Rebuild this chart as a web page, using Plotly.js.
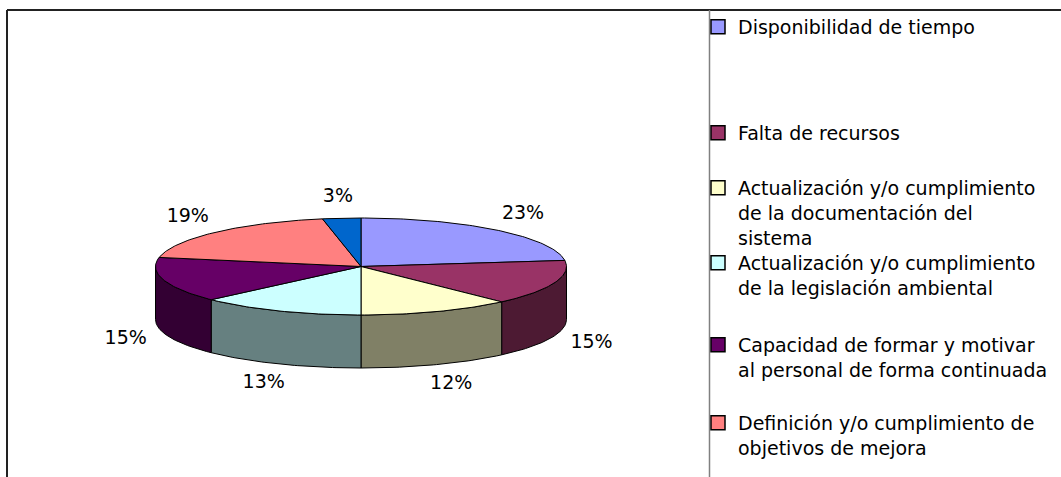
<!DOCTYPE html>
<html>
<head>
<meta charset="utf-8">
<script src="https://cdn.plot.ly/plotly-3.0.1.min.js"></script>
<style>html,body{margin:0;padding:0;background:#fff;}#chart{width:1061px;height:477px;}</style>
</head>
<body>
<div id="chart"></div>
<script>
// ---- data ----
const categories = [
  "Disponibilidad de tiempo",
  "Falta de recursos",
  "Actualización y/o cumplimiento de la documentación del sistema",
  "Actualización y/o cumplimiento de la legislación ambiental",
  "Capacidad de formar y motivar al personal de forma continuada",
  "Definición y/o cumplimiento de objetivos de mejora",
  "Otros"
];
const legendLabels = [
  "Disponibilidad de tiempo",
  "Falta de recursos",
  "Actualización y/o cumplimiento<br>de la documentación del<br>sistema",
  "Actualización y/o cumplimiento<br>de la legislación ambiental",
  "Capacidad de formar y motivar<br>al personal de forma continuada",
  "Definición y/o cumplimiento de<br>objetivos de mejora",
  "Otros"
];
const values = [23, 15, 12, 13, 15, 19, 3];
const colors = ["#9999FF", "#993366", "#FFFFCC", "#CCFFFF", "#660066", "#FF8080", "#0066CC"];

// ---- geometry (style / layout) ----
const W = 1061, H = 477;
const cx = 361, cy = 266.5, rx = 205.5, ry = 48.5, depth = 53;
const lrx = 245, lry = 70;
const FONT = "DejaVu Sans, Verdana, sans-serif";

function shade(hex, f) {
  const n = parseInt(hex.slice(1), 16);
  const r = Math.round(((n >> 16) & 255) * f), g = Math.round(((n >> 8) & 255) * f), b = Math.round((n & 255) * f);
  return "rgb(" + r + "," + g + "," + b + ")";
}
function px(a) { return cx + rx * Math.sin(a * Math.PI / 180); }
function py(a) { return cy - ry * Math.cos(a * Math.PI / 180); }
function arc(a1, a2, dy) {
  const xs = [], ys = [];
  const n = Math.max(2, Math.ceil(Math.abs(a2 - a1)));
  for (let k = 0; k <= n; k++) {
    const a = a1 + (a2 - a1) * k / n;
    xs.push(px(a)); ys.push(py(a) + dy);
  }
  return [xs, ys];
}

const total = values.reduce((s, v) => s + v, 0);
const starts = [], ends = [];
let acc = 0;
values.forEach(v => { starts.push(acc / total * 360); acc += v; ends.push(acc / total * 360); });

const traces = [];
// side walls (front half only)
values.forEach((v, i) => {
  const s = Math.max(starts[i], 90), e = Math.min(ends[i], 270);
  if (e <= s) return;
  const [tx, ty] = arc(s, e, 0);
  const [bx, by] = arc(e, s, depth);
  traces.push({
    type: "scatter", mode: "lines", fill: "toself",
    x: tx.concat(bx, [tx[0]]), y: ty.concat(by, [ty[0]]),
    fillcolor: shade(colors[i], 0.5), line: {color: "#000", width: 1},
    showlegend: false, hoverinfo: "skip"
  });
});
// top faces
values.forEach((v, i) => {
  const [ax, ay] = arc(starts[i], ends[i], 0);
  traces.push({
    type: "scatter", mode: "lines", fill: "toself",
    x: [cx].concat(ax, [cx]), y: [cy].concat(ay, [cy]),
    fillcolor: colors[i], line: {color: "#000", width: 1},
    name: categories[i], showlegend: false, hoverinfo: "skip"
  });
});
// percentage labels
const lx = [], ly = [], lt = [];
values.forEach((v, i) => {
  const m = (starts[i] + ends[i]) / 2 * Math.PI / 180;
  const c = Math.cos(m);
  lx.push(cx + lrx * Math.sin(m));
  ly.push(cy - lry * c + (c < 0 ? depth : 0));
  lt.push(Math.round(v / total * 100) + "%");
});
traces.push({
  type: "scatter", mode: "text", x: lx, y: ly, text: lt,
  textposition: "middle center", textfont: {family: FONT, size: 19, color: "#000"},
  showlegend: false, hoverinfo: "skip"
});
// legend entries
const legendTops = [27, 133, 188, 263, 345, 423];
const layoutLegends = {};
legendLabels.forEach((lab, i) => {
  const key = i === 0 ? "legend" : "legend" + (i + 1);
  const show = i < legendTops.length;
  traces.push({
    type: "scatter", mode: "markers", x: [null], y: [null],
    name: lab, legend: key, showlegend: show,
    marker: {symbol: "square", size: 14, color: colors[i], line: {color: "#000", width: 1.5}},
    hoverinfo: "skip"
  });
  if (show) {
    layoutLegends[key] = {
      x: 698 / W, xanchor: "left",
      y: 1 - (legendTops[i] - 19) / H, yanchor: "top",
      bgcolor: "rgba(0,0,0,0)", borderwidth: 0,
      font: {family: FONT, size: 19, color: "#000"},
      valign: "top", itemwidth: 30, itemclick: false, itemdoubleclick: false
    };
  }
});

const layout = Object.assign({
  width: W, height: H,
  margin: {l: 0, r: 0, t: 0, b: 0, autoexpand: false},
  paper_bgcolor: "#fff", plot_bgcolor: "rgba(0,0,0,0)",
  showlegend: true,
  font: {family: FONT, size: 19, color: "#000"},
  xaxis: {range: [0, W], visible: false, fixedrange: true},
  yaxis: {range: [H, 0], visible: false, fixedrange: true},
  shapes: [
    {type: "line", xref: "paper", yref: "paper", x0: 7 / W, x1: 1, y0: 1 - 10 / H, y1: 1 - 10 / H, line: {color: "#222", width: 2}},
    {type: "line", xref: "paper", yref: "paper", x0: 7 / W, x1: 7 / W, y0: 1 - 10 / H, y1: 0, line: {color: "#222", width: 2}},
    {type: "line", xref: "paper", yref: "paper", x0: 709.5 / W, x1: 709.5 / W, y0: 1 - 10 / H, y1: 0, line: {color: "#808080", width: 1.5}}
  ]
}, layoutLegends);

Plotly.newPlot("chart", traces, layout, {displayModeBar: false, staticPlot: true});
</script>
</body>
</html>
